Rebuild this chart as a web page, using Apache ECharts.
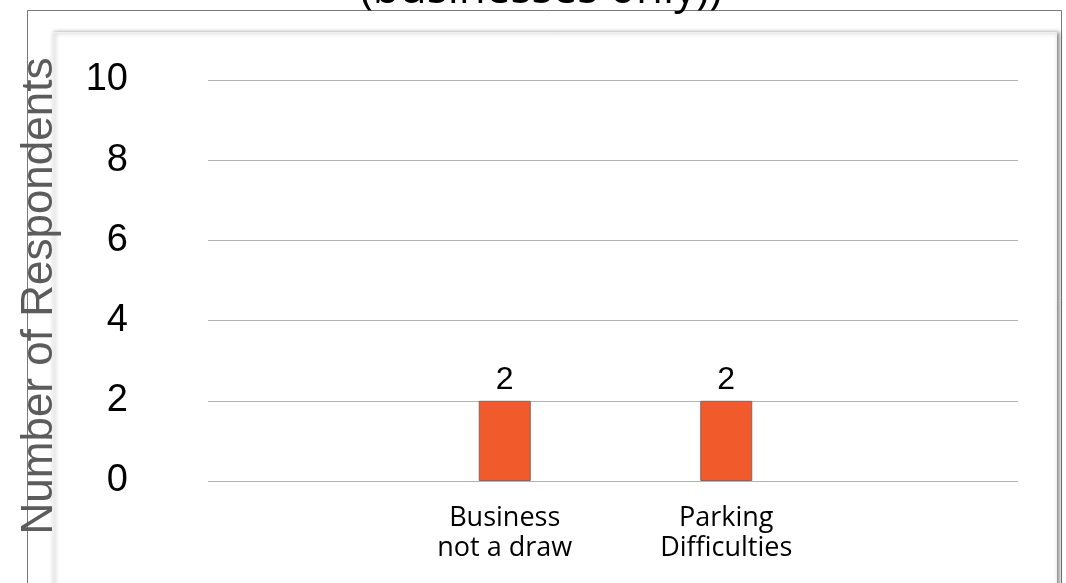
<!DOCTYPE html>
<html>
<head>
<meta charset="utf-8">
<script src="https://cdn.jsdelivr.net/npm/echarts@6/dist/echarts.min.js"></script>
<style>
  html, body { margin: 0; padding: 0; background: #fff; }
  #chart { width: 1066px; height: 583px; }
</style>
</head>
<body>
<div id="chart"></div>
<script>
var categories = ['Business\nnot a draw', 'Parking\nDifficulties'];
var respondents = [2, 2];
var yTicks = { min: 0, max: 10, step: 2 };

var myChart = echarts.init(document.getElementById('chart'));
myChart.setOption({
	animation: false,
	graphic: [
		// outer frame
		{
			type: 'rect', z: -20,
			shape: { x: 27.5, y: 10.5, width: 1034, height: 620 },
			style: { fill: '#fff', stroke: '#7a7a7a', lineWidth: 1 }
		},
		// inner panel with soft shadow
		{
			type: 'rect', z: -10,
			shape: { x: 52.5, y: 32.5, width: 1004, height: 600 },
			style: {
				fill: '#fff', stroke: '#f0f0f0', lineWidth: 1,
				shadowBlur: 4, shadowOffsetX: 2, shadowOffsetY: 0,
				shadowColor: 'rgba(0,0,0,0.45)'
			}
		},
		// title, cut off by the top of the picture
		{
			type: 'text', z: 10,
			x: 541, y: -10,
			style: {
				text: '(businesses only))',
				font: '44px "Open Sans"',
				fill: '#000',
				textAlign: 'center',
				textVerticalAlign: 'middle'
			}
		},
		// y axis name
		{
			type: 'text', z: 10,
			x: 40, y: 296,
			rotation: Math.PI / 2,
			style: {
				text: 'Number of Respondents',
				font: '44px "Liberation Sans"',
				fill: '#5c5c5c',
				textAlign: 'center',
				textVerticalAlign: 'middle'
			}
		}
	],
	grid: [
		{ left: 208, right: 48, top: 80, bottom: 102 },
		{ left: 394, right: 229, top: 80, bottom: 102 }
	],
	xAxis: [
		{ gridIndex: 0, type: 'value', show: false },
		{
			gridIndex: 1,
			type: 'category',
			data: categories,
			axisLine: { show: false },
			axisTick: { show: false },
			axisLabel: {
				margin: 22,
				fontFamily: 'Open Sans',
				fontSize: 27,
				lineHeight: 30,
				color: '#000'
			}
		}
	],
	yAxis: [
		{
			gridIndex: 0,
			type: 'value',
			min: yTicks.min,
			max: yTicks.max,
			interval: yTicks.step,
			axisLine: { show: false },
			axisTick: { show: false },
			axisLabel: {
				margin: 80,
				fontFamily: 'Liberation Sans',
				fontSize: 38,
				color: '#000'
			},
			splitLine: { lineStyle: { color: '#b4b4b4', width: 1 } }
		},
		{
			gridIndex: 1,
			type: 'value',
			min: yTicks.min,
			max: yTicks.max,
			show: false
		}
	],
	series: [{
		name: 'Respondents',
		type: 'bar',
		xAxisIndex: 1,
		yAxisIndex: 1,
		barWidth: 52,
		data: respondents,
		itemStyle: {
			color: '#f15a2b',
			borderColor: '#8a6458',
			borderWidth: 1
		},
		label: {
			show: true,
			position: 'top',
			distance: 5,
			fontFamily: 'Liberation Sans',
			fontSize: 32,
			color: '#000'
		}
	}]
});
</script>
</body>
</html>
